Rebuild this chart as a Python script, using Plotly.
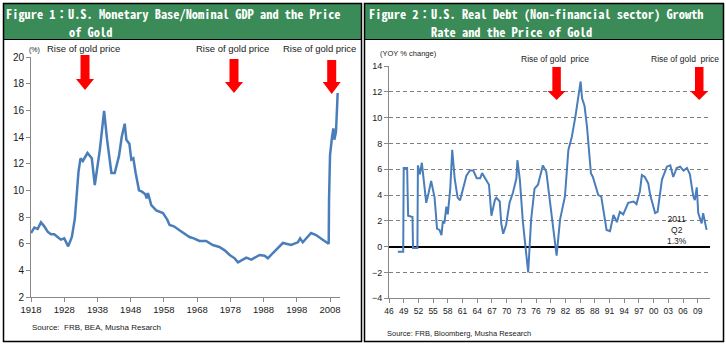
import plotly.graph_objects as go

# ---------------- data ----------------
# Figure 1: U.S. monetary base / nominal GDP (%)
fig1_year = [1918, 1919, 1920, 1921, 1922, 1923, 1924, 1925, 1926, 1927, 1928, 1929.2,
             1930.3, 1931.2, 1931.8, 1932.3, 1932.9, 1933.6, 1934.3, 1935, 1936.3, 1937.2,
             1938.7, 1940, 1940.9, 1942.2, 1943.2, 1944.5, 1945.3, 1946.2, 1946.7, 1947.6,
             1948.2, 1948.8, 1949.5, 1950.5, 1951.4, 1952.4, 1952.8, 1953.2, 1954.2,
             1955.7, 1957.7, 1959, 1959.7, 1961, 1962.7, 1964, 1965.7, 1967, 1968.7,
             1970.7, 1972.7, 1974.7, 1976.3, 1977.8, 1979.3, 1980.3, 1981.8, 1982.8,
             1984.3, 1986.8, 1988.3, 1989.3, 1990.8, 1992.3, 1993.8, 1996.3, 1998.3,
             1999, 1999.8, 2002.3, 2003.8, 2005.8, 2007.3, 2007.6, 2007.7, 2008.0,
             2008.6, 2009.0, 2009.3, 2009.8, 2010.3]
fig1_ratio = [6.8, 7.2, 7.1, 7.6, 7.3, 6.9, 6.7, 6.7, 6.5, 6.3, 6.4, 5.8,
              6.5, 7.9, 9.8, 11.4, 12.4, 12.2, 12.5, 12.8, 12.4, 10.4,
              13.0, 15.95, 13.8, 11.3, 11.3, 12.6, 14.0, 15.0, 13.8, 13.5,
              12.3, 12.4, 11.3, 10.0, 9.9, 9.7, 9.4, 9.8, 8.9,
              8.5, 8.3, 7.8, 7.4, 7.3, 7.0, 6.8, 6.5, 6.4, 6.2,
              6.2, 5.9, 5.75, 5.5, 5.15, 4.9, 4.6, 4.8, 4.95,
              4.8, 5.15, 5.1, 4.9, 5.3, 5.7, 6.05, 5.9, 6.1,
              6.4, 6.1, 6.8, 6.65, 6.3, 6.0, 6.0, 9.3, 12.65,
              14.0, 14.65, 13.8, 14.4, 17.3]
fig1_ticks = list(range(1918, 2009, 10))
fig1_gold_rise = [1934.25, 1979.1, 2008.5]

# Figure 2: U.S. real debt (non-financial sector), YoY % change
fig2_year = [1947.8, 1948.9, 1949.0, 1949.7, 1949.9, 1950.8, 1950.9, 1951.8, 1951.9,
             1952.3, 1952.7, 1953.1, 1953.6, 1954.1, 1954.6, 1955.3, 1955.8, 1956.3,
             1956.7, 1957.0, 1957.3, 1957.7, 1958.0, 1958.5, 1958.9, 1959.4, 1960.0,
             1960.5, 1961.1, 1961.8, 1962.5, 1963.2, 1963.9, 1964.6, 1965.0, 1965.9,
             1966.4, 1966.9, 1967.6, 1967.9, 1968.6, 1968.9, 1969.3, 1969.9, 1970.6,
             1971.3, 1972.0, 1972.2, 1972.7, 1973.3, 1974.4, 1975.0, 1975.7, 1976.4,
             1977.4, 1978.1, 1978.5, 1979.2, 1980.2, 1980.9, 1981.6, 1981.9, 1982.6,
             1983.3, 1984.0, 1984.5, 1984.8, 1985.1, 1985.4, 1985.9, 1986.4, 1986.9,
             1987.2, 1987.6, 1988.0, 1988.7, 1989.3, 1990.1, 1990.4, 1991.1, 1991.8,
             1992.5, 1993.1, 1993.8, 1994.8, 1995.9, 1996.5, 1997.2, 1997.6, 1998.2,
             1998.9, 1999.3, 1999.6, 2000.3, 2000.8, 2001.3, 2001.7, 2002.7, 2003.4,
             2004.0, 2004.7, 2005.4, 2006.1, 2006.8, 2007.4, 2007.8, 2008.1, 2008.4,
             2008.8, 2009.1, 2009.8, 2010.1, 2010.8]
fig2_growth = [-0.4, -0.4, 6.1, 6.1, 2.4, 2.3, -0.1, -0.1, 6.3,
               5.6, 6.5, 5.1, 3.4, 4.2, 5.1, 3.8, 1.4, 1.3,
               0.9, 2.0, 1.8, 3.1, 2.5, 4.5, 7.5, 5.3, 3.8,
               3.6, 4.4, 5.5, 5.9, 5.9, 5.3, 5.3, 5.7, 5.1,
               4.8, 2.4, 3.6, 3.8, 3.5, 1.8, 1.0, 1.7, 3.4,
               4.2, 5.3, 6.7, 5.2, 2.0, -2.0, 2.1, 4.5, 4.8,
               6.3, 5.8, 4.5, 2.6, -0.7, 2.1, 3.4, 3.9, 7.5,
               8.5, 10.0, 11.3, 11.7, 12.8, 11.5, 10.9, 9.3, 7.2,
               5.7, 5.4, 4.9, 4.0, 3.9, 1.8, 1.3, 1.2, 2.45,
               1.9, 2.7, 2.5, 3.4, 3.5, 3.3, 4.3, 5.55, 5.4,
               4.9, 4.0, 3.6, 2.6, 2.7, 4.1, 5.2, 6.2, 6.3,
               5.4, 6.1, 6.2, 5.9, 6.1, 5.6, 4.6, 3.9, 3.6,
               4.6, 2.6, 1.8, 2.6, 1.3]
fig2_tickvals = list(range(1946, 2010, 3))
fig2_ticktext = ["%02d" % (y % 100) for y in fig2_tickvals]
fig2_gold_rise = [1980.2, 2009.3]

# ---------------- geometry helpers (pixels -> paper) ----------------
W, H = 726, 348


def fx(p):
    return p / W


def fy(p):
    return 1 - p / H


# plot-area pixel boxes
P1 = dict(x0=31, x1=340, ytop=57, ybot=297, xr=(1918, 2011), yr=(2, 20))
P2 = dict(x0=389, x1=710, ytop=66, ybot=298.3, xr=(1946, 2011.5), yr=(-4, 14))


def year_px(p, yr):
    return p["x0"] + (yr - p["xr"][0]) / (p["xr"][1] - p["xr"][0]) * (p["x1"] - p["x0"])


def arrow_path(cx, top, head_top, tip, shaft_w=9, head_w=18):
    pts = [(cx - shaft_w / 2, top), (cx + shaft_w / 2, top), (cx + shaft_w / 2, head_top),
           (cx + head_w / 2, head_top), (cx, tip), (cx - head_w / 2, head_top),
           (cx - shaft_w / 2, head_top)]
    return "M " + " L ".join("%.4f,%.4f" % (fx(x), fy(y)) for x, y in pts) + " Z"


BLUE = "#4A7EBB"
GREEN = "#3A8B57"
AXIS = "#888888"
TXT = "#1a1a1a"
FONT = "Liberation Sans, Arial, sans-serif"
HEAD_FONT = "Noto Sans Mono CJK JP, DejaVu Sans Mono, monospace"

fig = go.Figure()
fig.add_trace(go.Scatter(x=fig1_year, y=fig1_ratio, mode="lines",
                         line=dict(color=BLUE, width=2.5), xaxis="x", yaxis="y",
                         hoverinfo="skip"))
fig.add_trace(go.Scatter(x=fig2_year, y=fig2_growth, mode="lines",
                         line=dict(color=BLUE, width=2), xaxis="x2", yaxis="y2",
                         hoverinfo="skip"))

axis_common = dict(showline=True, linecolor=AXIS, linewidth=1, ticks="outside",
                   ticklen=4, tickcolor=AXIS, fixedrange=True, automargin=False)

fig.update_layout(
    template="none",
    width=W, height=H, margin=dict(l=0, r=0, t=0, b=0, pad=0),
    paper_bgcolor="white", plot_bgcolor="white", showlegend=False,
    font=dict(family=FONT, color=TXT),
    xaxis=dict(domain=[fx(P1["x0"]), fx(P1["x1"])], range=list(P1["xr"]),
               tickvals=fig1_ticks, showgrid=False, zeroline=False,
               tickfont=dict(size=9.5, color=TXT), anchor="y", **axis_common),
    yaxis=dict(domain=[fy(P1["ybot"]), fy(P1["ytop"])], range=list(P1["yr"]),
               dtick=2, tick0=2, showgrid=False, zeroline=False,
               tickfont=dict(size=10, color=TXT), anchor="x", **axis_common),
    xaxis2=dict(domain=[fx(P2["x0"]), fx(P2["x1"])], range=list(P2["xr"]),
                tickvals=fig2_tickvals, ticktext=fig2_ticktext, showgrid=False,
                zeroline=False, tickfont=dict(size=8.5, color=TXT), anchor="y2",
                **axis_common),
    yaxis2=dict(domain=[fy(P2["ybot"]), fy(P2["ytop"])], range=list(P2["yr"]),
                dtick=2, tick0=0, showgrid=True, gridcolor="#7f7f7f", gridwidth=1,
                griddash="4px,3px", zeroline=True, zerolinecolor="#000000",
                zerolinewidth=1.5, tickfont=dict(size=9, color=TXT), anchor="x2",
                **axis_common),
)

shapes = []
# panel frames and green title bars
for x0, x1 in [(3.5, 361.5), (364.5, 723.5)]:
    shapes.append(dict(type="rect", xref="paper", yref="paper", x0=fx(x0), x1=fx(x1),
                       y0=fy(39.5), y1=fy(3.5), fillcolor=GREEN, line=dict(width=0),
                       layer="below"))
    shapes.append(dict(type="rect", xref="paper", yref="paper", x0=fx(x0), x1=fx(x1),
                       y0=fy(341.5), y1=fy(3.5), line=dict(color="black", width=1.5)))
    shapes.append(dict(type="line", xref="paper", yref="paper", x0=fx(x0), x1=fx(x1),
                       y0=fy(39.5), y1=fy(39.5), line=dict(color="black", width=1)))

# red arrows marking rises in the gold price
arrow_v1 = [(55, 79, 90), (59, 82, 93), (60, 82, 94)]
for yr, (t, h, tip) in zip(fig1_gold_rise, arrow_v1):
    shapes.append(dict(type="path", xref="paper", yref="paper",
                       path=arrow_path(year_px(P1, yr), t, h, tip),
                       fillcolor="#FF0000", line=dict(width=0)))
for yr in fig2_gold_rise:
    shapes.append(dict(type="path", xref="paper", yref="paper",
                       path=arrow_path(year_px(P2, yr), 67, 91, 100, 8.5, 18),
                       fillcolor="#FF0000", line=dict(width=0)))
fig.update_layout(shapes=shapes)

ann = []


def text(x, y, s, size, xanchor="center", color=TXT, family=FONT, yanchor="middle",
         align="center"):
    ann.append(dict(x=fx(x), y=fy(y), xref="paper", yref="paper", text=s,
                    showarrow=False, xanchor=xanchor, yanchor=yanchor, align=align,
                    borderpad=0, font=dict(size=size, color=color, family=family)))


# title bars, two lines each
HS = 12.4
text(5, 14, "<b>Figure 1：U.S. Monetary Base/Nominal GDP and the Price</b>", HS, "left",
     "white", HEAD_FONT)
text(68, 32.5, "<b>of Gold</b>", HS, "left", "white", HEAD_FONT)
text(368, 14, "<b>Figure 2：U.S. Real Debt (Non-financial sector) Growth</b>", HS,
     "left", "white", HEAD_FONT)
text(430, 32.5, "<b>Rate and the Price of Gold</b>", HS, "left", "white", HEAD_FONT)

# figure 1 texts
for cx in (83.5, 232, 319):
    text(cx, 49, "Rise of gold price", 9.5)
text(34, 50, "(%)", 7, "center")
text(31, 327, "Source:  FRB, BEA, Musha Resarch", 8, "left")

# figure 2 texts
text(555, 59, "Rise of gold  price", 8.5)
text(685, 59, "Rise of gold  price", 8.5)
text(379, 54, "(YOY % change)", 7.5, "left")
text(677, 230, "2011<br>Q2<br>%.1f%%" % fig2_growth[-1], 8.5)
text(386, 333, "Source: FRB, Bloomberg, Musha Research", 7.5, "left")

fig.update_layout(annotations=ann)

fig.write_html("out.html")
